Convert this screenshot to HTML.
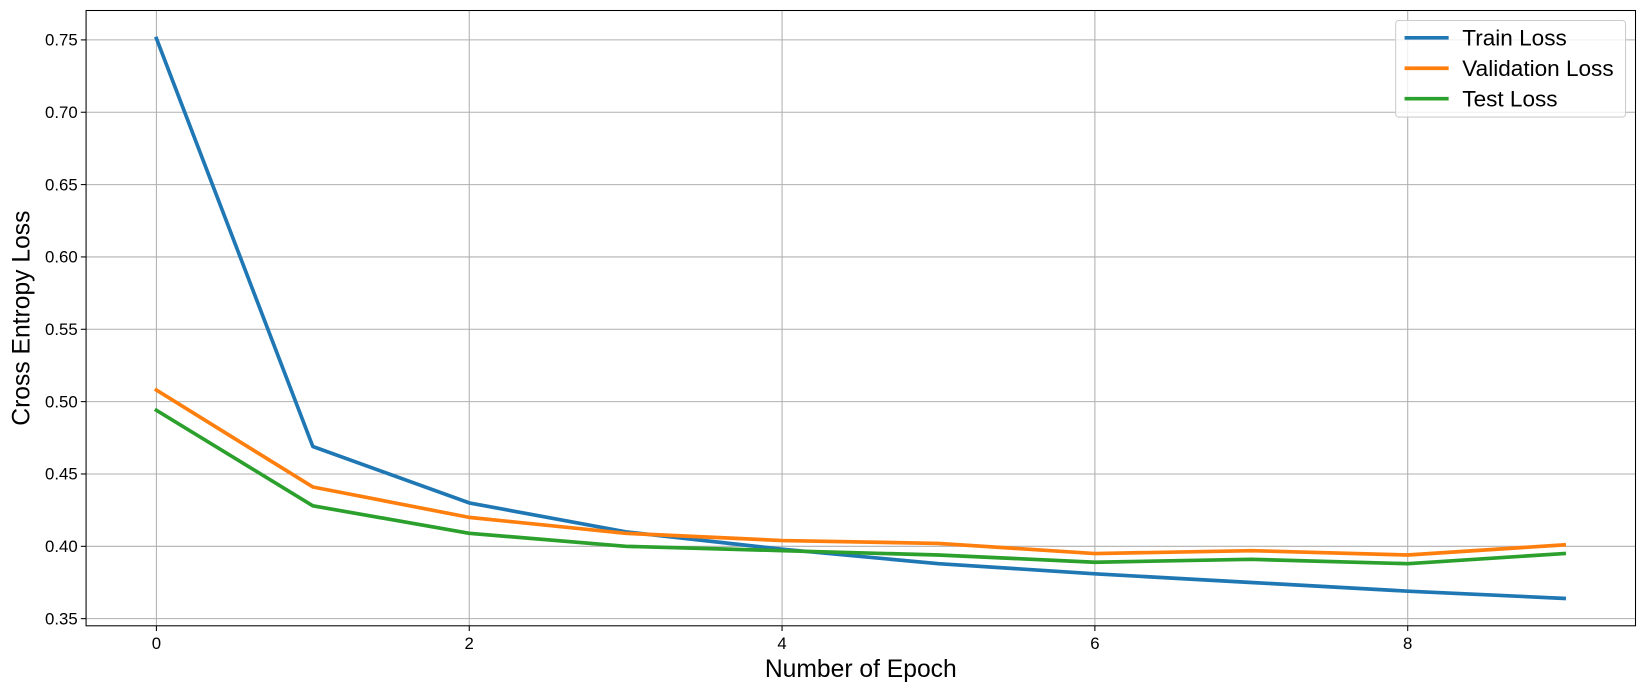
<!DOCTYPE html>
<html><head><meta charset="utf-8"><style>
body{margin:0;background:#fff;}
svg{display:block;font-family:"Liberation Sans","DejaVu Sans",sans-serif;}
</style></head><body>
<svg id="chart" width="1646" height="693" viewBox="0 0 1568 660" preserveAspectRatio="none"></svg>
<script>
const epochs=[0,1,2,3,4,5,6,7,8,9];
const trainLoss=[0.751,0.469,0.430,0.410,0.398,0.388,0.381,0.375,0.369,0.364];
const valLoss=[0.508,0.441,0.420,0.409,0.404,0.402,0.395,0.397,0.394,0.401];
const testLoss=[0.494,0.428,0.409,0.400,0.397,0.394,0.389,0.391,0.388,0.395];
const xTicks=[0,2,4,6,8];
const yTicks=[0.35,0.40,0.45,0.50,0.55,0.60,0.65,0.70,0.75];
const seriesNames=["Train Loss","Validation Loss","Test Loss"];
const colors=["#1f77b4","#ff7f0e","#2ca02c"];
const L=82,R=1558,T=10,B=596;
const xs=v=>149+(v)*149;
const ys=v=>38+(0.75-v)*1378;
const svg=document.getElementById('chart');
const NS='http://www.w3.org/2000/svg';
function mk(t,a,p){const e=document.createElementNS(NS,t);for(const k in a)e.setAttribute(k,a[k]);(p||svg).appendChild(e);return e;}
xTicks.forEach(t=>{const x=xs(t);
 const g=mk('line',{x1:x,x2:x,y1:T,y2:B,stroke:'#b0b0b0','stroke-width':1});
 
 mk('line',{x1:x,x2:x,y1:B,y2:B+5,stroke:'#000'});
 const tx=mk('text',{x:x,y:B+22,'font-size':16,'text-anchor':'middle'});tx.textContent=t;
 });
yTicks.forEach(t=>{const y=ys(t);
 const g=mk('line',{x1:L,x2:R,y1:y,y2:y,stroke:'#b0b0b0','stroke-width':1});
 
 mk('line',{x1:L-5,x2:L,y1:y,y2:y,stroke:'#000'});
 const tx=mk('text',{x:L-8,y:y+5.5,'font-size':16,'text-anchor':'end'});tx.textContent=t.toFixed(2);
 });
[trainLoss,valLoss,testLoss].forEach((s,i)=>{
 const p=mk('polyline',{points:s.map((v,j)=>xs(epochs[j])+','+ys(v)).join(' '),fill:'none',stroke:colors[i],'stroke-width':3.5,'stroke-linejoin':'round','stroke-linecap':'square'});
 });
const fr=mk('rect',{x:L,y:T,width:R-L,height:B-T,fill:'none',stroke:'#000','stroke-width':1});

const lg=mk('g',{});
mk('rect',{x:1329.5,y:19.5,width:219,height:92,rx:3,fill:'#fff','fill-opacity':0.8,stroke:'#ccc'},lg);
seriesNames.forEach((n,i)=>{const y=36+i*29;
 const e=mk('g',{},lg);
 mk('line',{x1:1338,x2:1380,y1:y,y2:y,stroke:colors[i],'stroke-width':3.5},e);
 const t=mk('text',{x:1393,y:y+7.5,'font-size':21.5},e);t.textContent=n;});
const xt=mk('text',{x:820,y:645,'font-size':23.5,'text-anchor':'middle'});xt.textContent='Number of Epoch';

const yt=mk('text',{x:0,y:0,'font-size':23.5,'text-anchor':'middle',transform:'translate(28,303) rotate(-90)'});yt.textContent='Cross Entropy Loss';

</script>
</body></html>
